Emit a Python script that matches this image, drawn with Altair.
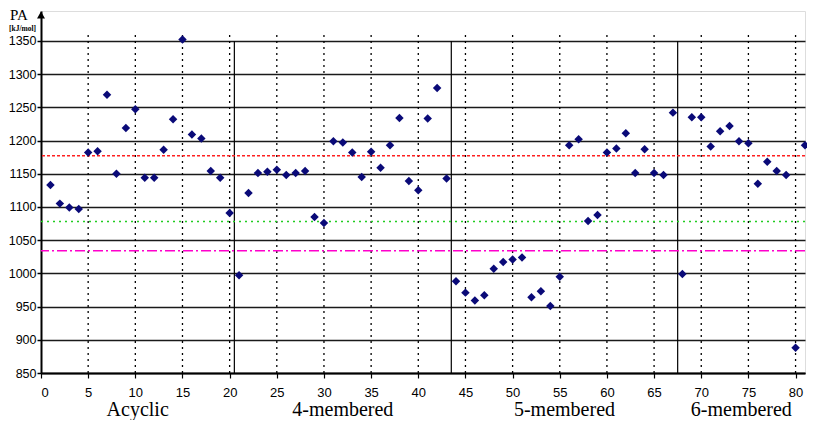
import altair as alt
import pandas as pd

# ---- data ----
compound = list(range(1, 82))
pa = [1133, 1105, 1099, 1097, 1182, 1184, 1269, 1150, 1219, 1247,
      1144, 1144, 1186, 1232, 1352, 1209, 1203, 1154, 1144, 1091,
      997, 1121, 1151, 1153, 1156, 1148, 1151, 1154, 1085, 1076,
      1199, 1197, 1182, 1145, 1183, 1159, 1193, 1234, 1139, 1125,
      1233, 1279, 1143,
      988, 971, 959, 967, 1007, 1017, 1021, 1024, 964, 973,
      951, 995, 1193, 1202, 1079, 1088, 1182, 1188, 1211, 1151,
      1187, 1151, 1148, 1242,
      999, 1235, 1235, 1191, 1214, 1222, 1199, 1196, 1135, 1168,
      1154, 1148, 888, 1193]

group_names = ["Acyclic", "4-membered", "5-membered", "6-membered"]
group_bounds = [0, 20.5, 43.5, 67.5, 81]

ref_values = [1177, 1078, 1034]
ref_colors = ["#ff2020", "#22cc22", "#ff00cc"]
ref_dashes = [[3, 2], [2, 4], [10, 3, 2, 3]]

x_ticks = list(range(0, 81, 5))
y_ticks = list(range(850, 1351, 50))

X_DOM = [0, 81]
Y_DOM = [850, 1395]

W, H = 764, 362

df = pd.DataFrame({"compound": compound, "pa": pa})

xs = alt.Scale(domain=X_DOM, nice=False, zero=False)
ys = alt.Scale(domain=Y_DOM, nice=False, zero=False)

base_axes = alt.Chart(df).mark_point(opacity=0).encode(
    x=alt.X("compound:Q", scale=xs,
            axis=alt.Axis(values=x_ticks, tickCount=40, title=None, grid=False, format="d",
                          domainColor="black", domainWidth=2,
                          tickColor="black", tickSize=5, tickWidth=1.2,
                          labelFont="Liberation Sans", labelFontSize=13,
                          labelColor="black", labelPadding=8)),
    y=alt.Y("pa:Q", scale=ys,
            axis=alt.Axis(values=y_ticks, tickCount=40, title=None, grid=True, format="d",
                          labelOverlap=False,
                          gridColor="#1a1a1a", gridWidth=1.5,
                          domainColor="black", domainWidth=2,
                          tickColor="black", tickSize=4, tickWidth=1.5,
                          labelFont="Liberation Sans", labelFontSize=12.5,
                          labelColor="black", labelPadding=1)),
)

# dotted vertical grid lines
vdf = pd.DataFrame({"x": x_ticks[1:], "y1": 850, "y2": 1360})
vgrid = alt.Chart(vdf).mark_rule(color="black", strokeWidth=1.3, strokeDash=[2, 4]).encode(
    x=alt.X("x:Q", scale=xs), y=alt.Y("y1:Q", scale=ys), y2="y2:Q")

# group separators
sdf = pd.DataFrame({"x": group_bounds[1:-1], "y1": 850, "y2": 1350})
seps = alt.Chart(sdf).mark_rule(color="black", strokeWidth=1.2).encode(
    x=alt.X("x:Q", scale=xs), y=alt.Y("y1:Q", scale=ys), y2="y2:Q")

# reference lines
refs = []
for v, c, d in zip(ref_values, ref_colors, ref_dashes):
    refs.append(alt.Chart(pd.DataFrame({"v": [v]})).mark_rule(
        color=c, strokeWidth=1.6, strokeDash=d).encode(y=alt.Y("v:Q", scale=ys)))

# points
pts = alt.Chart(df).mark_point(shape="diamond", filled=True, color="#0a0a78",
                               size=72, opacity=1).encode(
    x=alt.X("compound:Q", scale=xs), y=alt.Y("pa:Q", scale=ys))

# group labels
centers = [(group_bounds[i] + group_bounds[i + 1]) / 2 for i in range(len(group_names))]
gdf = pd.DataFrame({"name": group_names, "x": centers})
glabels = alt.Chart(gdf).mark_text(font="Liberation Serif", fontSize=20,
                                   color="black", baseline="alphabetic",
                                   align="center").encode(
    x=alt.X("x:Q", scale=xs), y=alt.value(H + 43), text="name:N")

one = pd.DataFrame({"a": [0]})
arrow = alt.Chart(one).mark_point(shape="triangle-up", filled=True, color="black",
                                  size=64, opacity=1).encode(
    x=alt.value(0), y=alt.value(4))
pa_lbl = alt.Chart(one).mark_text(text="PA", font="Liberation Serif", fontSize=15,
                                  color="black", baseline="alphabetic", align="center").encode(
    x=alt.value(-22), y=alt.value(9))
unit_lbl = alt.Chart(one).mark_text(text="[kJ/mol]", font="Liberation Serif", fontSize=7.5,
                                    fontWeight="bold", color="black",
                                    baseline="alphabetic", align="left").encode(
    x=alt.value(-32), y=alt.value(20))

chart = alt.layer(base_axes, vgrid, seps, *refs, pts, glabels, arrow, pa_lbl, unit_lbl).properties(
    width=W, height=H,
    autosize=alt.AutoSizeParams(type="none"),
    padding={"left": 33, "top": 3, "right": 2, "bottom": 47},
).configure_view(stroke=None).configure(background="white")

chart.save("out.html", embed_options={"renderer": "svg", "actions": False})
